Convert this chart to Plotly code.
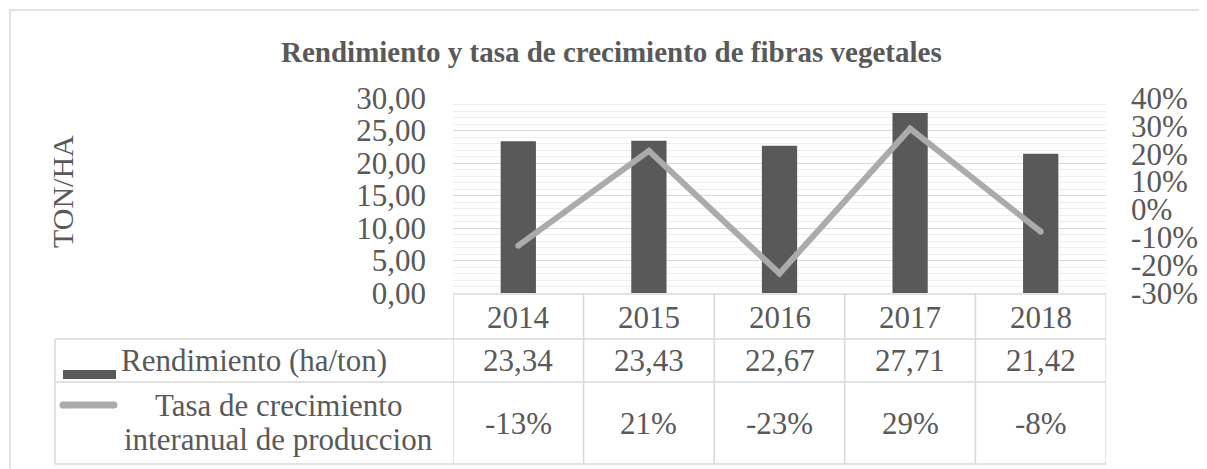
import plotly.graph_objects as go

# ---- data ----
years = ["2014", "2015", "2016", "2017", "2018"]
rendimiento = [23.34, 23.43, 22.67, 27.71, 21.42]
tasa = [-0.13, 0.21, -0.23, 0.29, -0.08]
left_ticks = [0, 5, 10, 15, 20, 25, 30]
right_ticks = [-0.3, -0.2, -0.1, 0.0, 0.1, 0.2, 0.3, 0.4]
name_rend = "Rendimiento (ha/ton)"
name_tasa_lines = ["Tasa de crecimiento", "interanual de produccion"]
title_text = "Rendimiento y tasa de crecimiento de fibras vegetales"
y_title = "TON/HA"

OFF = 8  # default body margin of the page
W, H = 1207 - OFF, 469 - OFF
FONT = "Liberation Serif, Times New Roman, serif"
TXT = "#595959"
GRID = "#d9d9d9"
FS = 31
BAR_C = "#595959"
LINE_C = "#ababab"


def px(x):
    return (x - OFF) / W


def py(y):
    return 1 - (y - OFF) / H


def fmt_num(v):
    return f"{v:.2f}".replace(".", ",")


def fmt_pct(v):
    return f"{round(v * 100):d}%"


plot_l, plot_r, plot_t, plot_b = 453, 1106, 98, 293

fig = go.Figure()
fig.add_trace(go.Bar(x=years, y=rendimiento, marker_color=BAR_C, width=0.27,
                     name=name_rend, yaxis="y"))
fig.add_trace(go.Scatter(x=years, y=tasa, mode="lines+markers", yaxis="y2",
                         line=dict(color=LINE_C, width=6),
                         marker=dict(color=LINE_C, size=6),
                         name=" ".join(name_tasa_lines)))

fig.update_layout(
    template="none",
    width=W, height=H, autosize=False,
    margin=dict(l=0, r=0, t=0, b=0, pad=0),
    paper_bgcolor="white", plot_bgcolor="white",
    showlegend=False,
    font=dict(family=FONT, color=TXT, size=FS),
    xaxis=dict(domain=[px(plot_l), px(plot_r)], type="category", range=[-0.5, 4.5],
               automargin=False,
               showticklabels=False, showgrid=False, zeroline=False, showline=False, ticks=""),
    yaxis=dict(domain=[py(plot_b), py(plot_t)], range=[0, 30], automargin=False,
               tickvals=left_ticks, ticktext=[fmt_num(v) for v in left_ticks],
               showgrid=True, gridcolor=GRID, gridwidth=1, zeroline=False, showline=False,
               ticks="", ticklabelstandoff=26,
               tickfont=dict(size=FS, color=TXT, family=FONT),
               minor=dict(dtick=1, showgrid=True, gridcolor="#eeeeee", gridwidth=1)),
    yaxis2=dict(overlaying="y", side="right", range=[-0.3, 0.4], anchor="x", automargin=False,
                tickvals=right_ticks, ticktext=[fmt_pct(v) for v in right_ticks],
                showgrid=False, zeroline=False, showline=False, ticks="",
                ticklabelstandoff=24,
                tickfont=dict(size=FS, color=TXT, family=FONT)),
)

shapes = []
# outer chart border
shapes.append(dict(type="rect", xref="paper", yref="paper", x0=px(10), x1=px(1230),
                   y0=py(10), y1=py(490), line=dict(color=GRID, width=1.5)))


def hline(y, x0, x1):
    shapes.append(dict(type="line", xref="paper", yref="paper", x0=px(x0), x1=px(x1),
                       y0=py(y), y1=py(y), line=dict(color=GRID, width=1.5)))


hline(294, plot_l, plot_r)
hline(339, 55, plot_r)
hline(382, 55, plot_r)
hline(464, 55, plot_r)
shapes.append(dict(type="line", xref="paper", yref="paper", x0=px(55), x1=px(55),
                   y0=py(339), y1=py(464), line=dict(color=GRID, width=1.5)))
for i in range(len(years) + 1):
    shapes.append(dict(type="line", xref="x", yref="paper", x0=i - 0.5, x1=i - 0.5,
                       y0=py(294), y1=py(464), line=dict(color=GRID, width=1.5)))
# legend keys
shapes.append(dict(type="rect", xref="paper", yref="paper", x0=px(63), x1=px(116),
                   y0=py(379), y1=py(370), fillcolor=BAR_C, line=dict(width=0)))
shapes.append(dict(type="line", xref="paper", yref="paper", x0=px(63), x1=px(114),
                   y0=py(405), y1=py(405), line=dict(color=LINE_C, width=7)))
for cx in (63, 114):
    shapes.append(dict(type="circle", xref="paper", yref="paper",
                       x0=px(cx - 3.5), x1=px(cx + 3.5), y0=py(408.5), y1=py(401.5),
                       fillcolor=LINE_C, line=dict(width=0)))
fig.update_layout(shapes=shapes)

ann = []


def add_text(text, x, y, xref="paper", xanchor="center", angle=0, size=FS):
    ann.append(dict(text=text, xref=xref, yref="paper", x=x, y=y, xanchor=xanchor,
                    yanchor="middle", textangle=angle, showarrow=False, align="center",
                    font=dict(size=size, color=TXT, family=FONT)))


add_text(f"<b>{title_text}</b>", px(611), py(52), size=29)
add_text(y_title, px(62), py(192), angle=-90, size=30)
for i, yr in enumerate(years):
    add_text(yr, i, py(317), xref="x")
    add_text(fmt_num(rendimiento[i]), i, py(360), xref="x")
    add_text(fmt_pct(tasa[i]), i, py(423), xref="x")
add_text(name_rend, px(119), py(360), xanchor="left")
add_text(name_tasa_lines[0], px(278), py(405))
add_text(name_tasa_lines[1], px(278), py(439))
fig.update_layout(annotations=ann)

fig.write_html("out.html")
